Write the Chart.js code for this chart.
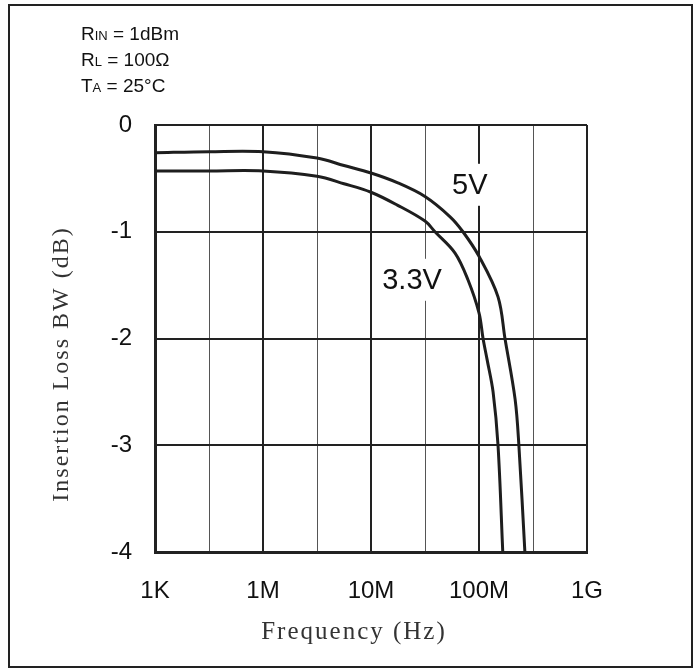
<!DOCTYPE html>
<html>
<head>
<meta charset="utf-8">
<script src="https://cdn.jsdelivr.net/npm/chart.js@4/dist/chart.umd.min.js"></script>
<style>
html,body{margin:0;padding:0;background:#fff;}
#wrap{width:699px;height:669px;position:relative;}
</style>
</head>
<body>
<div id="wrap"><canvas id="c" width="699" height="669"></canvas></div>
<script>
// ---- data (frequency in Hz, insertion loss in dB) ----
const freq5V  = [1e3, 3.16e4, 1e6, 3.16e6, 5.62e6, 1e7, 1.75e7, 3.16e7, 5.4e7, 7.1e7, 1e8, 1.5e8, 1.74e8, 2.16e8, 2.34e8, 2.66e8];
const loss5V  = [-0.26, -0.25, -0.25, -0.31, -0.38, -0.45, -0.54, -0.67, -0.86, -1.0, -1.23, -1.61, -2.0, -2.57, -3.0, -4.0];
const freq33V = [1e3, 3.16e4, 1e6, 3.16e6, 5.62e6, 1e7, 1.75e7, 3.16e7, 3.91e7, 6e7, 7.9e7, 1e8, 1.09e8, 1.19e8, 1.35e8, 1.5e8, 1.66e8];
const loss33V = [-0.43, -0.43, -0.43, -0.48, -0.55, -0.63, -0.75, -0.9, -1.0, -1.2, -1.45, -1.76, -2.0, -2.2, -2.5, -3.0, -4.0];
const xTickLabels = ['1K', '', '1M', '', '10M', '', '100M', '', '1G'];
const yTickValues = [0, -1, -2, -3, -4];
const seriesNames = ['5V', '3.3V'];
const conditions = [['R', 'IN', ' = 1dBm'], ['R', 'L', ' = 100\u03A9'], ['T', 'A', ' = 25\u00B0C']];

// axis position: 1K..1M compressed into 2 grid units, then 2 units per decade
function pos(f) {
  return f < 1e6 ? Math.log10(f / 1e3) * 2 / 3 : 2 + 2 * Math.log10(f / 1e6);
}
function toPts(fs, vs) { return fs.map((f, i) => ({x: pos(f), y: vs[i]})); }

const DARK = '#1e1e1e';

const annot = {
  id: 'annot',
  beforeDatasetsDraw(chart) {
    const ctx = chart.ctx, xs = chart.scales.x, ys = chart.scales.y;
    ctx.save();
    ctx.font = '29px "Liberation Sans", Arial, sans-serif';
    ctx.textAlign = 'center';
    ctx.textBaseline = 'middle';
    const labs = [[seriesNames[0], 5.83, -0.56], [seriesNames[1], 4.76, -1.45]];
    labs.forEach(([t, px, py]) => {
      const x = xs.getPixelForValue(px), y = ys.getPixelForValue(py);
      const w = ctx.measureText(t).width;
      ctx.fillStyle = '#fff';
      ctx.fillRect(x - w / 2 - 3, y - 21, w + 6, 42);
      ctx.fillStyle = '#111';
      ctx.fillText(t, x, y + 1);
    });
    ctx.restore();
  },
  afterDraw(chart) {
    const ctx = chart.ctx;
    ctx.save();
    // outer frame
    ctx.strokeStyle = '#222';
    ctx.lineWidth = 2;
    ctx.strokeRect(9, 5, 683, 662);
    // conditions
    ctx.fillStyle = '#111';
    ctx.textBaseline = 'alphabetic';
    ctx.textAlign = 'left';
    conditions.forEach((parts, i) => {
      let x = 81; const y = 40 + i * 26;
      ctx.font = '19px "Liberation Sans", Arial, sans-serif';
      ctx.fillText(parts[0], x, y); x += ctx.measureText(parts[0]).width;
      ctx.font = '13px "Liberation Sans", Arial, sans-serif';
      ctx.fillText(parts[1], x, y); x += ctx.measureText(parts[1]).width;
      ctx.font = '19px "Liberation Sans", Arial, sans-serif';
      ctx.fillText(parts[2], x, y);
    });
    // axis titles
    ctx.font = '25px "Liberation Serif", "DejaVu Serif", serif';
    ctx.letterSpacing = '2px';
    ctx.textAlign = 'center';
    ctx.textBaseline = 'middle';
    ctx.fillStyle = '#333';
    ctx.fillText('Frequency (Hz)', 354, 632);
    ctx.translate(62, 364);
    ctx.rotate(-Math.PI / 2);
    ctx.font = '24px "Liberation Serif", "DejaVu Serif", serif';
    ctx.fillText('Insertion Loss BW (dB)', 0, 0);
    ctx.restore();
  }
};

new Chart(document.getElementById('c'), {
  type: 'line',
  data: {
    datasets: [
      {label: seriesNames[0], data: toPts(freq5V, loss5V)},
      {label: seriesNames[1], data: toPts(freq33V, loss33V)}
    ].map(d => Object.assign(d, {
      borderColor: DARK, borderWidth: 3, pointRadius: 0,
      tension: 0.35, fill: false
    }))
  },
  options: {
    responsive: false,
    animation: false,
    devicePixelRatio: 1,
    layout: {padding: {left: 0, top: 125, right: 112, bottom: 0}},
    plugins: {legend: {display: false}, tooltip: {enabled: false}},
    scales: {
      x: {
        type: 'linear', min: 0, max: 8,
        afterFit(s) { s.height = 117; },
        afterBuildTicks(s) { s.ticks = xTickLabels.map((_, i) => ({value: i})); },
        ticks: {
          autoSkip: false, maxRotation: 0, padding: 25, color: '#111',
          font: {family: '"Liberation Sans", Arial, sans-serif', size: 24},
          callback: (v) => xTickLabels[v] ?? ''
        },
        grid: {
          drawTicks: false,
          color: (c) => (c.index % 2 === 0 ? '#222' : '#555'),
          lineWidth: (c) => (c.index % 2 === 0 ? 2 : 1)
        },
        border: {display: true, color: '#222', width: 3}
      },
      y: {
        min: -4, max: 0,
        afterFit(s) { s.width = 155; },
        afterBuildTicks(s) { s.ticks = yTickValues.map(v => ({value: v})); },
        ticks: {
          padding: 23, color: '#111',
          font: {family: '"Liberation Sans", Arial, sans-serif', size: 24},
          callback: (v) => String(v)
        },
        grid: {drawTicks: false, color: '#222', lineWidth: 2},
        border: {display: true, color: '#222', width: 3}
      }
    }
  },
  plugins: [annot]
});
</script>
</body>
</html>
